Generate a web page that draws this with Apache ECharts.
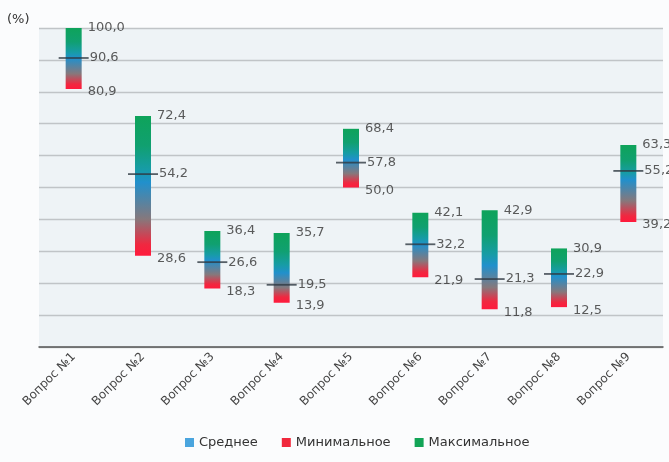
<!DOCTYPE html>
<html>
<head>
<meta charset="utf-8">
<script src="https://cdn.jsdelivr.net/npm/echarts@6/dist/echarts.min.js"></script>
<style>
  html, body { margin: 0; padding: 0; background: #fbfcfd; }
  #chart { width: 669px; height: 462px; }
</style>
</head>
<body>
<div id="chart"></div>
<script>
// Survey results per question: minimum, mean and maximum share (%)
const categories = ['Вопрос №1', 'Вопрос №2', 'Вопрос №3', 'Вопрос №4', 'Вопрос №5',
                    'Вопрос №6', 'Вопрос №7', 'Вопрос №8', 'Вопрос №9'];
const maxValues  = [100.0, 72.4, 36.4, 35.7, 68.4, 42.1, 42.9, 30.9, 63.3];
const meanValues = [90.6, 54.2, 26.6, 19.5, 57.8, 32.2, 21.3, 22.9, 55.2];
const minValues  = [80.9, 28.6, 18.3, 13.9, 50.0, 21.9, 11.8, 12.5, 39.2];

const fmt = v => v.toFixed(1).replace('.', ',');
const FONT = '"DejaVu Sans", sans-serif';
const labelStyle = { color: '#333', fontSize: 13, fontFamily: FONT };

// Each range bar fades green (max) -> blue (middle, pulled toward the mean) -> red (min)
function rangeGradient(i) {
  const span = maxValues[i] - minValues[i];
  const p = (maxValues[i] - meanValues[i]) / span;
  const b = 0.3 * p + 0.35;
  return new echarts.graphic.LinearGradient(0, 0, 0, 1, [
    { offset: 0, color: '#0ea35a' },
    { offset: b * 0.45, color: '#10a070' },
    { offset: b * 0.8, color: '#179ca6' },
    { offset: b, color: '#2190cc' },
    { offset: b + 0.5 * (1 - b), color: '#86787c' },
    { offset: 0.92, color: '#f02840' },
    { offset: 1, color: '#ff1a3c' }
  ]);
}

const rangeData = maxValues.map((v, i) => ({
  value: +(v - minValues[i]).toFixed(1),
  itemStyle: { color: rangeGradient(i) }
}));

const chart = echarts.init(document.getElementById('chart'), null, { renderer: 'canvas' });
chart.setOption({
  animation: false,
  backgroundColor: '#fbfcfd',
  graphic: [{
    type: 'text', left: 7, top: 13,
    style: { text: '(%)', fontSize: 13, fill: '#333', fontFamily: FONT }
  }],
  grid: {
    left: 39, right: 6, top: 28, bottom: 115,
    show: true, backgroundColor: '#eef3f6', borderWidth: 0
  },
  legend: {
    data: [
      { name: 'Среднее', itemStyle: { color: '#1e8fd6' } },
      { name: 'Минимальное', itemStyle: { color: '#f0283c' } },
      { name: 'Максимальное', itemStyle: { color: '#12a456' } }
    ],
    left: 180, top: 431,
    icon: 'rect', itemWidth: 9, itemHeight: 9, itemGap: 24,
    textStyle: { fontSize: 13, color: '#333', fontFamily: FONT }
  },
  xAxis: {
    type: 'category',
    data: categories,
    axisLine: { lineStyle: { color: '#555', width: 1.5 } },
    axisTick: { show: false },
    axisLabel: { rotate: 45, margin: 8, fontSize: 12, color: '#444', fontFamily: FONT }
  },
  yAxis: {
    type: 'value', min: 0, max: 100, interval: 10,
    axisLine: { show: false }, axisTick: { show: false }, axisLabel: { show: false },
    splitLine: { lineStyle: { color: '#c0c4c7', width: 1.3 } }
  },
  series: [
    {
      name: 'Минимальное',
      type: 'bar', stack: 'range', barWidth: 16,
      itemStyle: { color: 'transparent' },
      data: minValues
    },
    {
      name: 'Максимальное',
      type: 'bar', stack: 'range', barWidth: 16,
      data: rangeData
    },
    {
      name: 'Среднее',
      type: 'scatter', symbol: 'rect', symbolSize: [30, 1.8],
      itemStyle: { color: '#2f3942' },
      z: 5,
      label: {
        show: true, position: 'right', distance: 1,
        formatter: p => fmt(p.value), ...labelStyle
      },
      data: meanValues
    },
    {
      name: 'maxLabels',
      type: 'scatter', symbolSize: 0, silent: true,
      label: {
        show: true, position: 'right', distance: 14,
        formatter: p => fmt(p.value), ...labelStyle
      },
      data: maxValues
    },
    {
      name: 'minLabels',
      type: 'scatter', symbolSize: 0, silent: true,
      label: {
        show: true, position: 'right', distance: 14, offset: [0, 3],
        formatter: p => fmt(p.value), ...labelStyle
      },
      data: minValues
    }
  ]
});
</script>
</body>
</html>
